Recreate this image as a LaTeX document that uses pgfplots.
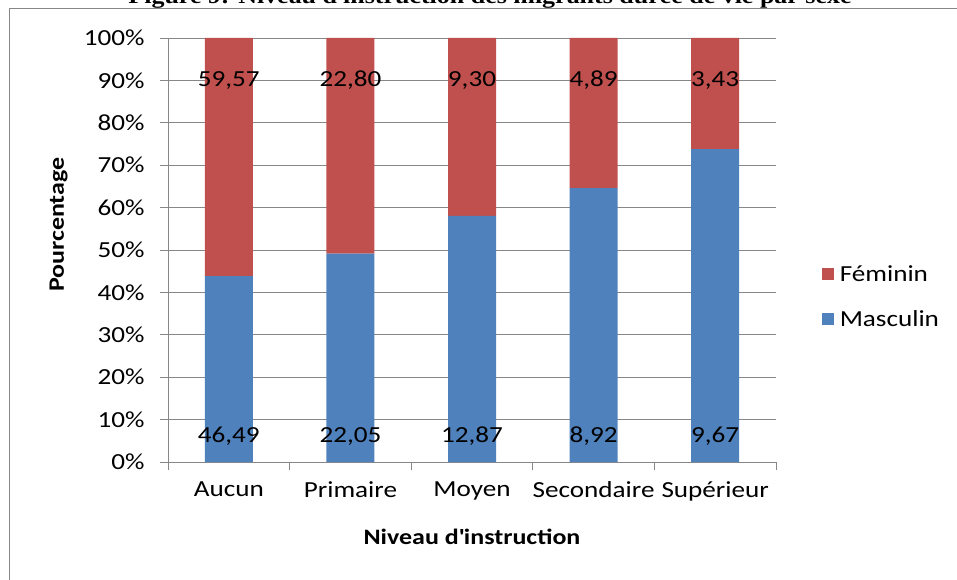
\documentclass[border=0pt]{standalone}
\usepackage{pgfplots}
\pgfplotsset{compat=1.18}
\usepackage{fontspec}
\setmainfont{Carlito}[FakeStretch=1.18]
\newfontfamily\titlefont{Liberation Serif}[FakeStretch=1.18]
\definecolor{fem}{HTML}{C0504D}
\definecolor{masc}{HTML}{4F81BD}
\definecolor{axgray}{HTML}{878787}

% part de chaque sexe (%) dans chaque niveau
\pgfplotstableread{
x masc fem
0 43.83 56.17
1 49.16 50.84
2 58.05 41.95
3 64.59 35.41
4 73.82 26.18
}\parts

\begin{document}
\begin{tikzpicture}[x=1pt,y=1pt]
\path[use as bounding box] (0,0) rectangle (957,579);
\draw[axgray,line width=1pt] (9,570) rectangle (990,-20);
\node[anchor=base,font=\titlefont\bfseries\fontsize{22}{26}\selectfont] at (490,575)
  {Figure 9: Niveau d\textquotesingle instruction des migrants durée de vie par sexe};

\begin{axis}[
  at={(168pt,117pt)}, anchor=south west,
  scale only axis, width=608pt, height=424pt,
  ybar stacked, bar width=48pt,
  xmin=-0.5, xmax=4.5, ymin=0, ymax=100,
  xtick={-0.5,0.5,...,4.5},
  x tick label as interval,
  xticklabels={Aucun,Primaire,Moyen,Secondaire,Supérieur},
  ytick={0,10,...,100},
  yticklabel={\pgfmathprintnumber{\tick}\%},
  /pgf/number format/assume math mode=true,
  ymajorgrids, grid style={axgray,line width=0.8pt},
  axis x line*=bottom, axis y line*=left,
  axis line style={axgray,line width=0.8pt},
  tick style={axgray,line width=0.8pt},
  tick align=outside, major tick length=8pt,
  tick label style={font=\fontsize{23}{27}\selectfont},
  xticklabel style={yshift=-8pt},
  yticklabel style={xshift=-12pt},
  ylabel={\bfseries Pourcentage},
  xlabel={\bfseries Niveau d\textquotesingle instruction},
  label style={font=\fontsize{22}{26}\selectfont},
  ylabel style={at={(rel axis cs:-0.18,0.56)},anchor=center},
  xlabel style={at={(rel axis cs:0.5,-0.177)},anchor=center},
  legend style={at={(rel axis cs:1.07,0.39)},anchor=west,draw=none,fill=none,
    font=\fontsize{23}{27}\selectfont,row sep=24pt,
    nodes={inner xsep=6pt}},
  legend cell align=left,
  reverse legend,
  legend image code/.code={\fill[#1] (0pt,-6pt) rectangle (12pt,6pt);},
]
\addplot[fill=masc,draw=none] table[x=x,y=masc] {\parts};
\addplot[fill=fem,draw=none] table[x=x,y=fem] {\parts};
\legend{Masculin,Féminin}
\end{axis}

\begin{axis}[
  at={(168pt,117pt)}, anchor=south west,
  scale only axis, width=608pt, height=424pt,
  xmin=-0.5, xmax=4.5, ymin=0, ymax=100,
  hide axis,
  nodes near coords, point meta=explicit symbolic,
  every node near coord/.append style={anchor=center,font=\fontsize{23}{27}\selectfont},
]
\addplot[only marks,mark=none] coordinates {
  (0,6)[46,49] (1,6)[22,05] (2,6)[12,87] (3,6)[8,92] (4,6)[9,67]
};
\addplot[only marks,mark=none] coordinates {
  (0,90)[59,57] (1,90)[22,80] (2,90)[9,30] (3,90)[4,89] (4,90)[3,43]
};
\end{axis}
\end{tikzpicture}
\end{document}
